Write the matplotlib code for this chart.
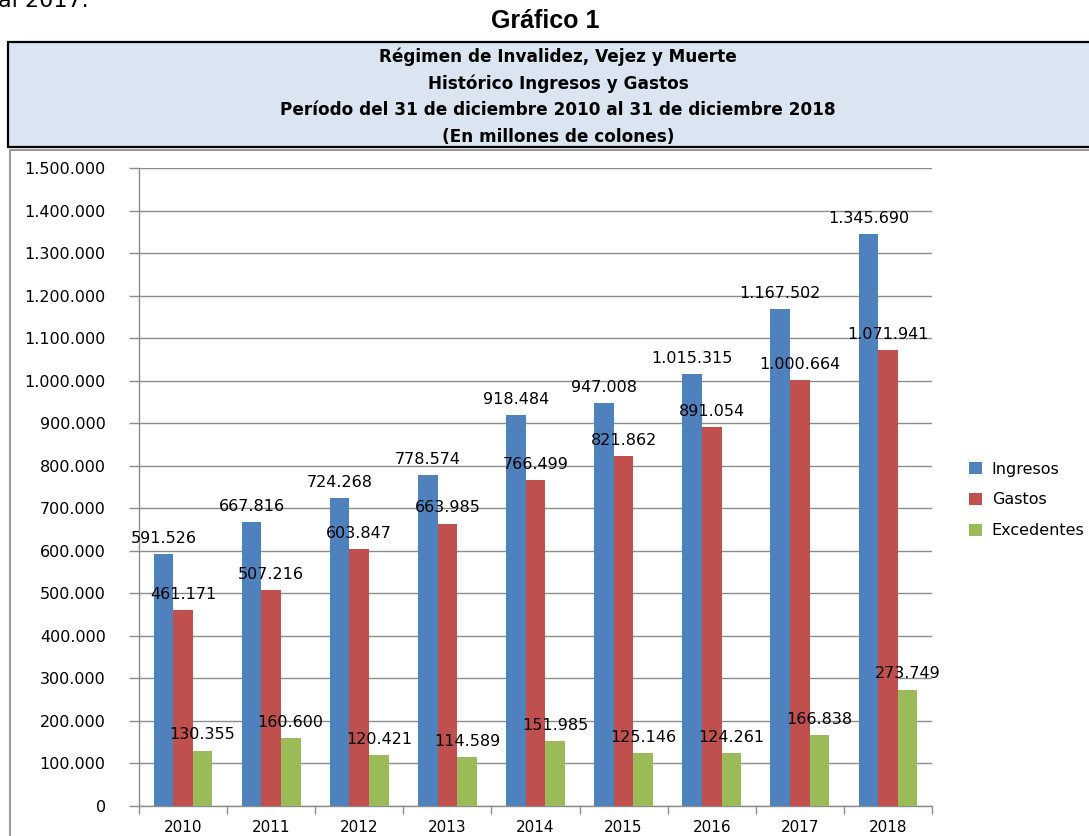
import matplotlib
matplotlib.use("Agg")
import matplotlib.pyplot as plt
from matplotlib.patches import Rectangle, Patch
from matplotlib.ticker import FuncFormatter
import numpy as np

years = ["2010", "2011", "2012", "2013", "2014", "2015", "2016", "2017", "2018"]
ingresos = [591526, 667816, 724268, 778574, 918484, 947008, 1015315, 1167502, 1345690]
gastos = [461171, 507216, 603847, 663985, 766499, 821862, 891054, 1000664, 1071941]
excedentes = [130355, 160600, 120421, 114589, 151985, 125146, 124261, 166838, 273749]
series_names = ["Ingresos", "Gastos", "Excedentes"]
colors = ["#4F81BD", "#C0504D", "#9BBB59"]
title_lines = [
    "Régimen de Invalidez, Vejez y Muerte",
    "Histórico Ingresos y Gastos",
    "Período del 31 de diciembre 2010 al 31 de diciembre 2018",
    "(En millones de colones)",
]

W, H = 1089, 836
fig = plt.figure(figsize=(W / 100, H / 100), dpi=100)


def fx(px):
    return px / W


def fy(py):
    return 1 - py / H


def miles(v):
    return f"{v:,.0f}".replace(",", ".")


# leftover text from the page above, mostly cut off
fig.text(fx(-2), fy(7), "al 2017.", fontsize=16, family="DejaVu Sans",
         ha="left", va="baseline")
fig.text(fx(545), fy(21), "Gráfico 1", fontsize=18, fontweight="bold",
         family="Liberation Sans", ha="center", va="center")

# chart area border
fig.patches.append(Rectangle((fx(10), fy(H + 5)), fx(W + 10) - fx(10), fy(150) - fy(H + 5),
                             transform=fig.transFigure, facecolor="none",
                             edgecolor="#9a9a9a", lw=1.5))
# title box
fig.patches.append(Rectangle((fx(8), fy(147)), fx(W + 10) - fx(8), fy(42) - fy(147),
                             transform=fig.transFigure, facecolor="#DBE5F1",
                             edgecolor="black", lw=1.6))
for i, line in enumerate(title_lines):
    fig.text(fx(558), fy(57 + i * 26.7), line, fontsize=12.2, fontweight="bold",
             family="DejaVu Sans", ha="center", va="center")

ax = fig.add_axes([fx(139), fy(806), fx(932) - fx(139), fy(168) - fy(806)])

x = np.arange(len(years))
width = 0.222
grid_c = "#8c8c8c"
for i, (vals, c) in enumerate(zip([ingresos, gastos, excedentes], colors)):
    pos = x + (i - 1) * width
    ax.bar(pos, vals, width, color=c, zorder=3)
    for p, v in zip(pos, vals):
        ax.annotate(miles(v), (p, v), xytext=(0, 8), textcoords="offset points",
                    ha="center", va="baseline", fontsize=11.5,
                    family="DejaVu Sans", zorder=4)

ax.set_xlim(-0.5, len(years) - 0.5)
ax.set_ylim(0, 1500000)
ax.set_yticks(np.arange(0, 1500001, 100000))
ax.yaxis.set_major_formatter(FuncFormatter(lambda v, p: miles(v)))
ax.yaxis.grid(True, color=grid_c, lw=1, zorder=0)
ax.tick_params(axis="y", length=7, width=1, color=grid_c, pad=17, labelsize=11.5)
ax.set_xticks(x)
ax.set_xticklabels(years)
ax.set_xticks(np.arange(-0.5, len(years)), minor=True)
ax.tick_params(axis="x", which="major", length=0, pad=10, labelsize=11)
ax.tick_params(axis="x", which="minor", length=6, width=1, color=grid_c)
for lab in ax.get_xticklabels() + ax.get_yticklabels():
    lab.set_family("DejaVu Sans")
for s in ["top", "right"]:
    ax.spines[s].set_visible(False)
for s in ["left", "bottom"]:
    ax.spines[s].set_color(grid_c)
    ax.spines[s].set_linewidth(1)

handles = [Patch(facecolor=c, label=n) for c, n in zip(colors, series_names)]
fig.legend(handles=handles, loc="center left", bbox_to_anchor=(fx(955), fy(500)),
           frameon=False, handlelength=0.8, handleheight=0.8,
           handletextpad=0.6, labelspacing=1.0, prop={"family": "DejaVu Sans", "size": 11.5})

fig.savefig("out.png", dpi=100)
